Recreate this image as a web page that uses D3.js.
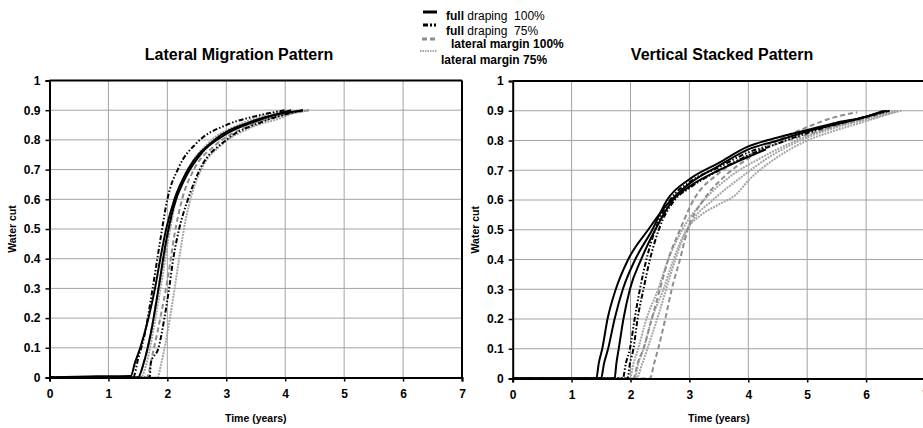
<!DOCTYPE html>
<html><head><meta charset="utf-8">
<script src="https://cdn.jsdelivr.net/npm/d3@7/dist/d3.min.js"></script>
<style>
body{margin:0;background:#fff;}
svg{display:block;font-family:"Liberation Sans",Arial,Helvetica,sans-serif;}
</style></head><body>
<svg id="c" width="923" height="428"></svg>
<script>
// ---------- data ----------
const xTicks = [0,1,2,3,4,5,6,7];
const yTicks = [0,0.1,0.2,0.3,0.4,0.5,0.6,0.7,0.8,0.9,1];
const panelTitles = ["Lateral Migration Pattern","Vertical Stacked Pattern"];
const xLabel = "Time (years)";
const yLabel = "Water cut";
const legendBold = ["full","full","lateral margin 100%","lateral margin 75%"];
const legendRest = [" draping  100%"," draping  75%","",""];

// Lateral Migration Pattern: [time (years), water cut]
const latFD100 = [
  [[0,0],[0.8,0.004],[1.38,0.005],[1.45,0.05],[1.54,0.1],[1.68,0.2],[1.79,0.3],[1.88,0.4],[1.98,0.5],[2.12,0.6],[2.35,0.7],[2.8,0.8],[3.4,0.86],[4.3,0.9]],
  [[0,0],[1.5,0],[1.6,0.05],[1.72,0.15],[1.85,0.3],[1.97,0.45],[2.1,0.57],[2.3,0.67],[2.6,0.76],[3.0,0.82],[3.6,0.87],[4.1,0.9]]
];
const latFD75 = [
  [[0,0],[1.42,0],[1.5,0.06],[1.62,0.15],[1.75,0.3],[1.87,0.45],[2.0,0.6],[2.2,0.71],[2.5,0.79],[3.0,0.85],[3.5,0.88],[4.0,0.9]],
  [[0,0],[1.7,0],[1.72,0.05],[1.85,0.1],[1.95,0.2],[2.03,0.3],[2.1,0.4],[2.2,0.5],[2.35,0.6],[2.55,0.7],[3.0,0.8],[3.6,0.86],[4.3,0.9]]
];
const latLM100 = [
  [[0,0],[1.5,0],[1.6,0.05],[1.72,0.15],[1.85,0.3],[1.96,0.42],[2.08,0.55],[2.25,0.66],[2.55,0.75],[3.0,0.82],[3.7,0.87],[4.4,0.9]],
  [[0,0],[1.65,0],[1.75,0.08],[1.9,0.22],[2.02,0.35],[2.12,0.48],[2.25,0.6],[2.45,0.7],[2.8,0.78],[3.3,0.84],[3.9,0.88],[4.4,0.9]]
];
const latLM75 = [
  [[0,0],[1.55,0],[1.65,0.05],[1.78,0.18],[1.9,0.32],[2.02,0.47],[2.15,0.6],[2.35,0.7],[2.7,0.79],[3.2,0.85],[3.8,0.89],[4.0,0.9]],
  [[0,0],[1.83,0],[1.9,0.05],[2.0,0.15],[2.1,0.27],[2.2,0.4],[2.3,0.52],[2.42,0.62],[2.6,0.71],[2.9,0.78],[3.4,0.84],[4.0,0.88],[4.2,0.9]]
];

// Vertical Stacked Pattern: [time (years), water cut]
const verFD100 = [
  [[0,0],[1.42,0],[1.46,0.05],[1.52,0.1],[1.61,0.2],[1.75,0.3],[1.96,0.4],[2.3,0.5],[2.6,0.58],[3.0,0.655],[3.5,0.715],[4.0,0.77],[4.5,0.8],[5.0,0.83],[5.5,0.855],[6.0,0.88],[6.35,0.9]],
  [[0,0],[1.5,0],[1.55,0.05],[1.62,0.1],[1.73,0.2],[1.87,0.3],[2.08,0.4],[2.37,0.5],[2.62,0.6],[3.0,0.67],[3.5,0.725],[4.0,0.78],[4.5,0.81],[5.0,0.835],[5.5,0.86],[6.0,0.88],[6.3,0.9]],
  [[0,0],[1.73,0],[1.76,0.05],[1.8,0.1],[1.88,0.2],[1.99,0.3],[2.18,0.4],[2.42,0.5],[2.72,0.6],[3.0,0.645],[3.5,0.7],[4.0,0.745],[4.3,0.77]]
];
const verFD75 = [
  [[0,0],[1.87,0],[1.92,0.05],[1.99,0.1],[2.07,0.2],[2.16,0.3],[2.27,0.4],[2.42,0.5],[2.67,0.6],[3.0,0.66],[3.5,0.71],[4.0,0.76],[4.3,0.78]],
  [[0,0],[1.95,0],[1.99,0.05],[2.05,0.1],[2.12,0.2],[2.22,0.3],[2.33,0.4],[2.48,0.5],[2.75,0.6],[3.0,0.64],[3.5,0.7],[4.0,0.75],[4.5,0.79],[5.0,0.825],[5.5,0.855],[6.0,0.88],[6.4,0.9]]
];
const verLM100 = [
  [[0,0],[2.33,0],[2.4,0.05],[2.47,0.1],[2.59,0.2],[2.7,0.3],[2.84,0.4],[2.97,0.5],[3.24,0.6],[3.6,0.68],[4.0,0.74],[4.5,0.8],[5.0,0.845],[5.5,0.88],[5.85,0.895]],
  [[0,0],[2.05,0],[2.12,0.05],[2.22,0.1],[2.36,0.2],[2.5,0.3],[2.64,0.4],[2.84,0.5],[3.07,0.6],[3.5,0.69],[4.0,0.75],[4.5,0.79],[5.0,0.82],[5.5,0.85],[6.0,0.875],[6.4,0.9]]
];
const verLM75 = [
  [[0,0],[1.99,0],[2.05,0.05],[2.13,0.1],[2.27,0.2],[2.47,0.3],[2.64,0.4],[2.88,0.5],[3.25,0.6],[3.7,0.68],[4.2,0.74],[4.7,0.79],[5.2,0.83],[5.8,0.865],[6.5,0.9]],
  [[0,0],[2.07,0],[2.13,0.05],[2.22,0.1],[2.36,0.2],[2.56,0.3],[2.73,0.4],[2.95,0.5],[3.2,0.55],[3.5,0.585],[3.8,0.62],[4.0,0.665],[4.5,0.745],[5.0,0.8],[5.5,0.835],[6.0,0.865],[6.55,0.9]],
  [[0,0],[2.1,0],[2.2,0.05],[2.32,0.12],[2.5,0.23],[2.68,0.35],[2.85,0.45],[3.05,0.53],[3.4,0.6],[3.9,0.68],[4.4,0.75],[5.0,0.81],[5.6,0.85],[6.2,0.88],[6.6,0.9]]
];

// ---------- styles ----------
const styles = [
  {stroke:"#000", width:2, dash:null},                 // full draping 100%
  {stroke:"#000", width:2, dash:"5,2,1.5,2,1.5,2"},    // full draping 75%
  {stroke:"#8e8e8e", width:2, dash:"5,3"},             // lateral margin 100%
  {stroke:"#a5a5a5", width:2, dash:"2,1"}              // lateral margin 75%
];

const svg = d3.select("#c");

function panel(idx, x0, x1, y0, y1, groups, rightFrame){
  const x = d3.scaleLinear().domain([0,7]).range([x0,x1]);
  const y = d3.scaleLinear().domain([0,1]).range([y0,y1]);
  const g = svg.append("g");
  const clipId = "clip"+idx;
  g.append("clipPath").attr("id",clipId).append("rect")
    .attr("x",x0).attr("y",y1).attr("width",x1-x0).attr("height",y0-y1);

  // grid
  g.append("g").selectAll("line").data(xTicks.slice(1)).join("line")
    .attr("x1",d=>x(d)).attr("x2",d=>x(d)).attr("y1",y0).attr("y2",y1)
    .attr("stroke","#a3a3a3").attr("stroke-width",1);
  g.append("g").selectAll("line").data(yTicks.slice(1)).join("line")
    .attr("x1",x0).attr("x2",x1).attr("y1",d=>y(d)).attr("y2",d=>y(d))
    .attr("stroke","#a3a3a3").attr("stroke-width",1);

  // curves
  const line = d3.line().x(d=>x(d[0])).y(d=>y(d[1])).curve(d3.curveMonotoneX);
  const cg = g.append("g").attr("clip-path",`url(#${clipId})`);
  [3,2,1,0].forEach(k=>{
    groups[k].forEach(arr=>{
      cg.append("path").attr("d",line(arr)).attr("fill","none")
        .attr("stroke",styles[k].stroke).attr("stroke-width",styles[k].width)
        .attr("stroke-dasharray",styles[k].dash).attr("stroke-linejoin","round");
    });
  });

  // frame
  g.append("line").attr("x1",x0).attr("x2",x1).attr("y1",y1).attr("y2",y1).attr("stroke","#000").attr("stroke-width",2);
  if(rightFrame) g.append("line").attr("x1",x1).attr("x2",x1).attr("y1",y1).attr("y2",y0).attr("stroke","#000").attr("stroke-width",2);

  // axes
  const ax = g.append("g").attr("transform",`translate(0,${y0})`)
    .call(d3.axisBottom(x).tickValues(xTicks).tickSize(4).tickPadding(8).tickFormat(d3.format("d")));
  const ay = g.append("g").attr("transform",`translate(${x0},0)`)
    .call(d3.axisLeft(y).tickValues(yTicks).tickSize(4).tickPadding(5).tickFormat(d=>d===0||d===1?String(d):d3.format(".1f")(d)));
  [ax,ay].forEach(a=>{
    a.select(".domain").attr("stroke","#000").attr("stroke-width",2);
    a.selectAll(".tick line").attr("stroke","#000").attr("stroke-width",1.5);
    a.selectAll("text").attr("font-family","Liberation Sans, Arial, sans-serif")
      .attr("font-size",12).attr("font-weight","bold").attr("fill","#000");
  });

  // labels
  const cx = (x0+x1)/2;
  g.append("text").attr("x",cx).attr("y",422).attr("text-anchor","middle")
    .attr("font-size",10.5).attr("font-weight","bold").text(xLabel);
  g.append("text").attr("transform",`translate(${x0-34},${(y0+y1)/2}) rotate(-90)`)
    .attr("text-anchor","middle").attr("font-size",10.5).attr("font-weight","bold").text(yLabel);
  return {x,y};
}

panel(0, 49.5, 462, 377.5, 80.5, [latFD100,latFD75,latLM100,latLM75], true);
panel(1, 512.7, 925, 378.5, 81, [verFD100,verFD75,verLM100,verLM75], false);

// titles
svg.append("text").attr("x",239).attr("y",60).attr("text-anchor","middle")
  .attr("font-size",16).attr("font-weight","bold").text(panelTitles[0]);
svg.append("text").attr("x",722).attr("y",60).attr("text-anchor","middle")
  .attr("font-size",16).attr("font-weight","bold").text(panelTitles[1]);

// legend
const legRows = [
  {ly:12, tx:446, ty:19.5, x1:423, x2:437, fs:12},
  {ly:25, tx:446, ty:35, x1:423, x2:438, fs:12},
  {ly:39, tx:451, ty:48, x1:422, x2:437, fs:12},
  {ly:51, tx:441, ty:64, x1:420, x2:437, fs:12}
];
const leg = svg.append("g");
legRows.forEach((r,i)=>{
  leg.append("line").attr("x1",r.x1).attr("x2",r.x2).attr("y1",r.ly).attr("y2",r.ly)
    .attr("stroke",styles[i].stroke).attr("stroke-width",i===3?2:3)
    .attr("stroke-dasharray",i===1?"5,2,2,2,2,2":(i===2?"5,3":(i===3?"1.5,1":null)));
  const t = leg.append("text").attr("x",r.tx).attr("y",r.ty).attr("font-size",r.fs)
    .style("white-space","pre");
  t.append("tspan").attr("font-weight","bold").text(legendBold[i]);
  if(legendRest[i]) t.append("tspan").attr("font-weight","normal").text(legendRest[i]);
});
</script>
</body></html>
